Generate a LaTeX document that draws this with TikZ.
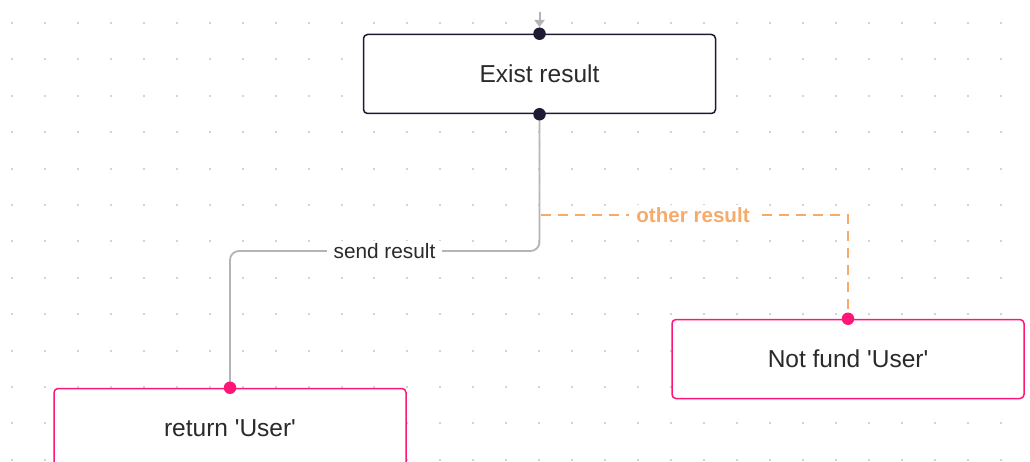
\documentclass[tikz,border=0pt]{standalone}
\usepackage{fontspec}
\newfontfamily\uifont{Liberation Sans}
\usetikzlibrary{arrows.meta}
\definecolor{inkdark}{HTML}{1C1B33}
\definecolor{flowpink}{HTML}{FF1679}
\definecolor{flowgray}{HTML}{B4B4B8}
\definecolor{floworange}{HTML}{F7AB6A}
\definecolor{griddot}{HTML}{D2D2D2}
\definecolor{textdark}{HTML}{2A2A2A}
\tikzset{
  x=1pt, y=-1pt,
  every node/.style={font=\uifont},
  stepbox/.style={draw=inkdark, line width=1.5pt, rounded corners=4pt, fill=white,
    minimum width=352pt, minimum height=79pt, inner sep=0pt,
    font=\uifont\fontsize{24.5}{28}\selectfont, text=textdark},
  endbox/.style={stepbox, draw=flowpink},
  port/.style={circle, fill=#1, minimum size=12.5pt, inner sep=0pt},
  lbl/.style={fill=white, inner xsep=7pt, inner ysep=2pt, font=\uifont\fontsize{20.8}{24}\selectfont},
  graylink/.style={draw=flowgray, line width=1.8pt, rounded corners=9pt},
  orangelink/.style={draw=floworange, line width=1.8pt, dash pattern=on 10pt off 7pt}
}
\begin{document}
\begin{tikzpicture}
  % canvas and dot grid
  \fill[white] (0,0) rectangle (1030,462);
  \useasboundingbox (0,0) rectangle (1030,462);
  \foreach \i in {0,...,30}{
    \foreach \j in {0,...,12}{
      \fill[griddot] ({12+32.95*\i-1},{23+36.4*\j-1}) rectangle ++(2,2);
    }
  }

  % boxes
  \node[stepbox] (exist) at (539.5,74) {Exist result};
  \node[endbox] (ret) at (230,428) {};
  \node[text=textdark, font=\uifont\fontsize{24.5}{28}\selectfont] (rettext) at (230,428) {return 'User'};
  \node[endbox] (notfund) at (848,359) {Not fund 'User'};

  % incoming arrow
  \coordinate (inc) at (539.5,12);
  \draw[flowgray, line width=2pt, -{Triangle[width=10pt,length=7pt]}] (inc) -- ++(0,15);

  % connectors
  \draw[graylink] (exist.south) |- (384,251) -| (ret.north);
  \draw[orangelink] (exist.south) |- (848,215) -- (notfund.north);

  % connector labels
  \node[lbl, text=textdark] (sendlbl) at (384.5,251) {send result};
  \node[lbl, text=floworange, font=\uifont\fontsize{20.6}{24}\selectfont\bfseries] (otherlbl) at (693,215) {other result};

  % ports
  \node[port=inkdark] (p1) at (exist.north) {};
  \node[port=inkdark] (p2) at (exist.south) {};
  \node[port=flowpink] (p3) at (ret.north) {};
  \node[port=flowpink] (p4) at (notfund.north) {};
\end{tikzpicture}
\end{document}
